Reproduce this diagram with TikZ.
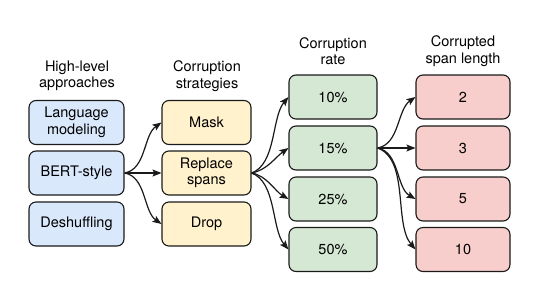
\documentclass[tikz,border=0pt]{standalone}
\usepackage{fontspec}
\setmainfont{TeX Gyre Heros}
\usetikzlibrary{arrows.meta}
\definecolor{cblue}{HTML}{DAE8FC}
\definecolor{cyellow}{HTML}{FFF2CC}
\definecolor{cgreen}{HTML}{D5E8D4}
\definecolor{cred}{HTML}{F8CECC}
\definecolor{cline}{HTML}{1A1A1A}
\begin{document}
\begin{tikzpicture}[x=1pt,y=-1pt,
  font=\fontsize{14.5}{16.5}\selectfont,
  box/.style={draw=cline, line width=1.1pt, rounded corners=7pt, inner sep=0pt,
    minimum height=44pt, align=center, text=black},
  bluebox/.style={box, fill=cblue, minimum width=95pt},
  yelbox/.style={box, fill=cyellow, minimum width=89pt},
  grnbox/.style={box, fill=cgreen, minimum width=88pt},
  redbox/.style={box, fill=cred, minimum width=94pt},
  head/.style={align=center, inner sep=0pt},
  arr/.style={-{Stealth[length=9pt,width=7pt,inset=1.8pt]}, line width=1.2pt, draw=cline}]
\useasboundingbox (0,0) rectangle (556,290);
% headers
\node[head] (h1) at (77,76) {High-level\\approaches};
\node[head] (h2) at (207,76) {Corruption\\strategies};
\node[head] (h3) at (333,51) {Corruption\\rate};
\node[head] (h4) at (463,51) {Corrupted\\span length};
% blue
\node[bluebox] (lm) at (76.5,122.5) {Language\\modeling};
\node[bluebox] (bert) at (76.5,173) {BERT-style};
\node[bluebox] (desh) at (76.5,224) {Deshuffling};
% yellow
\node[yelbox] (mask) at (206.5,122.5) {Mask};
\node[yelbox] (repl) at (206.5,173) {Replace\\spans};
\node[yelbox] (drop) at (206.5,224) {Drop};
% green
\node[grnbox] (r10) at (333,97) {10\%};
\node[grnbox] (r15) at (333,148) {15\%};
\node[grnbox] (r25) at (333,199) {25\%};
\node[grnbox] (r50) at (333,249.5) {50\%};
% red
\node[redbox] (s2) at (463,97) {2};
\node[redbox] (s3) at (463,148) {3};
\node[redbox] (s5) at (463,199) {5};
\node[redbox] (s10) at (463,249.5) {10};
% arrows
\draw[arr] (bert.east) to[out=10,in=215,looseness=0.9] (mask.west);
\draw[arr] (bert.east) -- (repl.west);
\draw[arr] (bert.east) to[out=-10,in=145,looseness=0.9] (drop.west);
\draw[arr] (repl.east) to[out=20,in=230,looseness=0.8] (r10.west);
\draw[arr] (repl.east) to[out=10,in=215,looseness=0.9] (r15.west);
\draw[arr] (repl.east) to[out=-10,in=150,looseness=0.9] (r25.west);
\draw[arr] (repl.east) to[out=-20,in=130,looseness=0.8] (r50.west);
\draw[arr] (r15.east) to[out=10,in=215,looseness=0.9] (s2.west);
\draw[arr] (r15.east) -- (s3.west);
\draw[arr] (r15.east) to[out=-10,in=150,looseness=0.9] (s5.west);
\draw[arr] (r15.east) to[out=-20,in=130,looseness=0.8] (s10.west);
\end{tikzpicture}
\end{document}
